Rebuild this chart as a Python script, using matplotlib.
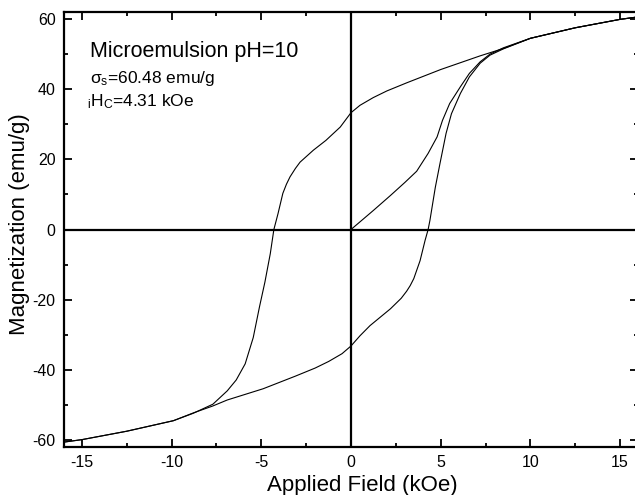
import matplotlib
matplotlib.use("Agg")
import matplotlib.pyplot as plt

plt.rcParams['font.family'] = ['Liberation Sans', 'DejaVu Sans']
plt.rcParams['mathtext.default'] = 'regular'
plt.rcParams['axes.unicode_minus'] = False

# descending branch, +16 -> -16 kOe
h_down = [16, 15, 12.5, 10, 8.5, 7.2, 5.0, 3.1, 2.0, 1.24, 0.5, 0, -0.6, -1.4, -2.1,
          -2.84, -3.1, -3.4, -3.6, -3.8, -4.07, -4.3, -4.5, -4.8, -5.1, -5.45, -5.9,
          -6.4, -6.9, -7.7, -8.8, -9.9, -12.5, -15, -16]
m_down = [60.6, 59.9, 57.5, 54.5, 51.6, 49.5, 45.6, 41.8, 39.5, 37.6, 35.4, 33.3, 29.2,
          25.4, 22.6, 19.2, 17.4, 15, 12.9, 10.3, 4.5, 0, -6.9, -15, -22, -30.8, -38.3,
          -42.9, -46, -49.8, -52.4, -54.5, -57.5, -59.9, -60.6]

# ascending branch, -16 -> +16 kOe
h_up = [-16, -15, -12.5, -9.9, -8.8, -7.7, -6.9, -4.9, -3.1, -2.0, -1.24, -0.5, 0, 0.5,
        1.06, 2.2, 2.8, 3.1, 3.3, 3.5, 3.85, 4.13, 4.3, 4.4, 4.7, 4.96, 5.3, 5.6, 6.1,
        6.6, 7.2, 7.75, 8.5, 10, 12.5, 15, 16]
m_up = [-60.6, -59.9, -57.5, -54.5, -52.3, -50.3, -48.6, -45.4, -41.8, -39.5, -37.6,
        -35.4, -33.2, -30.3, -27.4, -22.6, -19.6, -17.6, -16.0, -14, -8.9, -3.1, 0, 2.6,
        12, 18.8, 27.4, 33, 38.8, 43.5, 47.4, 49.7, 51.5, 54.5, 57.5, 59.9, 60.6]

# initial magnetization curve
h_init = [0, 1.24, 2.2, 3.0, 3.66, 4.3, 4.8, 5.1, 5.5, 6.1, 6.6, 7.2, 7.75, 8.5, 10,
          12.5, 15, 16]
m_init = [0, 5.4, 9.7, 13.4, 16.6, 21.7, 26.4, 31.1, 35.9, 40.7, 44.5, 47.8, 50, 51.8,
          54.5, 57.5, 59.9, 60.6]

fig = plt.figure(figsize=(6.35, 4.95), dpi=100)
ax = fig.add_axes([64 / 635, 1 - 447 / 495, 574 / 635, 435 / 495])

ax.plot(h_down, m_down, color="black", linewidth=0.8)
ax.plot(h_up, m_up, color="black", linewidth=0.8)
ax.plot(h_init, m_init, color="black", linewidth=0.8)
ax.axhline(0, color="black", linewidth=1.6)
ax.axvline(0, color="black", linewidth=1.6)

ax.set_xlim(-16, 16)
ax.set_ylim(-62, 62)
ax.set_xticks([-15, -10, -5, 0, 5, 10, 15])
ax.set_xticks([-12.5, -7.5, -2.5, 2.5, 7.5, 12.5], minor=True)
ax.set_yticks([-60, -40, -20, 0, 20, 40, 60])
ax.set_yticks([-50, -30, -10, 10, 30, 50], minor=True)
ax.tick_params(which="both", direction="in", top=True, right=True, width=1.3,
               labelsize=11.5)
ax.tick_params(which="major", length=6, pad=6)
ax.tick_params(which="minor", length=3)
for s in ax.spines.values():
    s.set_linewidth(1.6)

fig.text(90 / 635, 1 - 57 / 495, "Microemulsion pH=10", fontsize=15.5, va="baseline")
fig.text(90 / 635, 1 - 83 / 495, "σ$_s$=60.48 emu/g", fontsize=12.5, va="baseline")
fig.text(87 / 635, 1 - 106 / 495, "$_i$H$_C$=4.31 kOe", fontsize=12.5, va="baseline")

fig.text(362 / 635, 1 - 491 / 495, "Applied Field (kOe)", fontsize=16,
         ha="center", va="baseline")
fig.text(20 / 635, 1 - 224 / 495, "Magnetization (emu/g)", fontsize=16,
         rotation=90, ha="center", va="center")

plt.savefig("out.png", dpi=100)
